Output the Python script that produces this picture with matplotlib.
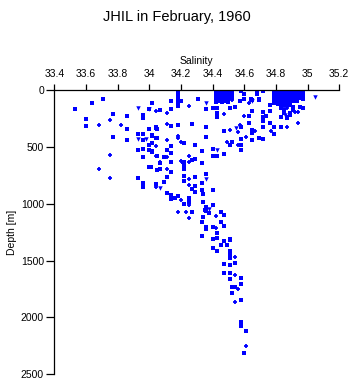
import numpy as np
import matplotlib.pyplot as plt

# salinity / depth readings, grouped by marker type
square_pts = [
    (33.71, 82), (33.64, 112), (33.53, 170), (33.77, 208), (33.86, 226), (34.00, 167),
    (34.02, 117), (33.96, 222), (33.96, 246), (33.60, 255), (33.60, 314), (33.86, 345),
    (34.00, 340), (34.04, 328), (33.93, 389), (33.96, 389), (34.02, 402), (34.05, 422),
    (33.77, 416), (33.86, 442), (33.96, 442), (34.00, 486), (33.93, 530), (33.96, 521),
    (34.00, 530), (34.02, 548), (34.05, 583), (33.96, 592), (34.00, 674), (34.00, 679),
    (34.05, 706), (33.93, 776), (33.96, 820), (34.04, 826), (33.96, 855),
    (34.18, 0), (34.18, 20), (34.18, 40), (34.18, 60), (34.18, 80), (34.18, 100), (34.18, 117),
    (34.14, 94), (34.20, 94), (34.31, 76), (34.18, 138), (34.07, 176), (34.14, 170),
    (34.36, 170), (34.40, 158), (34.43, 156), (34.43, 205), (34.43, 235), (34.51, 158),
    (34.54, 152), (34.60, 76), (34.65, 88), (34.68, 35), (34.69, 79), (34.63, 229),
    (34.63, 293), (34.58, 328), (34.65, 349), (34.69, 422), (34.65, 381), (34.58, 428),
    (34.47, 363), (34.36, 328), (34.27, 299), (34.18, 305), (34.14, 319), (34.04, 334),
    (34.05, 345), (34.02, 393), (34.04, 422), (34.22, 469), (34.14, 495), (34.29, 481),
    (34.33, 534), (34.36, 416), (34.40, 516), (34.51, 486), (34.52, 455), (34.58, 486),
    (34.58, 530), (34.47, 563), (34.43, 583), (34.40, 583), (34.02, 466), (34.02, 539),
    (34.11, 527), (34.14, 556), (34.09, 592), (34.14, 633), (34.22, 633), (34.22, 662),
    (34.27, 618), (34.29, 604), (34.33, 642), (34.07, 639),
    (34.97, 82), (34.95, 149), (34.97, 158), (34.87, 240), (34.89, 222), (34.83, 240),
    (34.83, 328), (34.79, 328), (34.79, 387), (34.76, 290), (34.72, 328), (34.72, 275),
    (34.72, 240), (34.72, 196), (34.76, 187), (34.76, 129), (34.74, 231), (34.69, 85),
    (34.65, 187), (34.65, 360), (34.65, 437), (34.72, 431), (34.83, 158), (34.85, 202),
    (34.79, 114), (34.87, 99), (34.89, 129), (34.91, 152), (34.85, 175), (34.89, 200),
    (34.87, 250), (34.91, 180),
    (34.01, 674), (34.05, 703), (34.07, 697), (34.14, 723), (34.11, 767), (34.09, 806),
    (34.11, 903), (34.14, 923), (34.14, 961), (34.18, 932), (34.16, 952), (34.22, 1002),
    (34.25, 949), (34.25, 984), (34.27, 1075), (34.21, 636), (34.22, 692), (34.22, 753),
    (34.22, 803), (34.29, 767), (34.29, 841), (34.29, 899), (34.27, 870), (34.33, 820),
    (34.33, 879), (34.34, 917), (34.36, 741), (34.40, 879), (34.34, 984), (34.36, 1026),
    (34.36, 1066), (34.35, 1055), (34.40, 1013), (34.38, 1084), (34.34, 1119), (34.33, 1163),
    (34.45, 1075), (34.47, 1099), (34.45, 1158), (34.40, 1202), (34.36, 1202), (34.36, 1225),
    (34.43, 1257), (34.47, 1193), (34.33, 1283), (34.40, 1312), (34.51, 1312), (34.43, 1298),
    (34.47, 1325), (34.51, 1319), (34.49, 1362), (34.45, 1362), (34.40, 1391), (34.43, 1415),
    (34.51, 1415), (34.51, 1450), (34.51, 1479), (34.54, 1518), (34.51, 1538), (34.47, 1529),
    (34.47, 1609), (34.51, 1611), (34.51, 1661), (34.58, 1650), (34.58, 1708), (34.52, 1729),
    (34.54, 1734), (34.52, 1787), (34.58, 1849), (34.58, 2042), (34.58, 2077), (34.61, 2118),
    (34.60, 2314),
]

# dense upper clusters
cluster_a = [
    (34.42, 0), (34.42, 25), (34.42, 50), (34.42, 75), (34.42, 105),
    (34.44, 0), (34.44, 20), (34.44, 45), (34.44, 70), (34.44, 95),
    (34.46, 0), (34.46, 25), (34.46, 50), (34.46, 75), (34.46, 110),
    (34.48, 0), (34.48, 20), (34.48, 45), (34.48, 70), (34.48, 100),
    (34.50, 0), (34.50, 25), (34.50, 50), (34.50, 80), (34.50, 105),
    (34.52, 0), (34.52, 20), (34.52, 45), (34.52, 75),
    (34.58, 9), (34.60, 38), (34.64, 82), (34.68, 24), (34.72, 9), (34.57, 97),
]
cluster_b = [
    (34.79, 0), (34.79, 20), (34.79, 45), (34.79, 70), (34.79, 95),
    (34.81, 0), (34.81, 20), (34.81, 45), (34.81, 70), (34.81, 95), (34.81, 120),
    (34.83, 0), (34.83, 20), (34.83, 45), (34.83, 70), (34.83, 95), (34.83, 125),
    (34.85, 0), (34.85, 20), (34.85, 45), (34.85, 70), (34.85, 95), (34.85, 120),
    (34.87, 0), (34.87, 20), (34.87, 45), (34.87, 70), (34.87, 95), (34.87, 130),
    (34.89, 0), (34.89, 20), (34.89, 45), (34.89, 70), (34.89, 95), (34.89, 120),
    (34.91, 0), (34.91, 20), (34.91, 45), (34.91, 70), (34.91, 95),
    (34.93, 0), (34.93, 20), (34.93, 45), (34.93, 70), (34.93, 95),
    (34.95, 0), (34.95, 20), (34.95, 45), (34.95, 75),
    (34.97, 0), (34.97, 25), (34.97, 50),
]

plus_pts = [
    (34.04, 187), (33.75, 266), (33.82, 310), (33.68, 310), (34.04, 490), (33.75, 574),
    (33.68, 697), (33.75, 776), (34.04, 855),
    (34.18, 30), (34.18, 140), (34.25, 143), (34.11, 202), (34.47, 208), (34.63, 112),
    (34.60, 231), (34.57, 305), (34.67, 360), (34.61, 416), (34.51, 352), (34.56, 372),
    (34.11, 299), (34.11, 437), (34.18, 407), (34.18, 425), (34.20, 460), (34.49, 460),
    (34.56, 481), (34.04, 577), (34.11, 592), (34.20, 621), (34.25, 580),
    (34.94, 196), (34.92, 196), (34.94, 293), (34.87, 328), (34.77, 363), (34.87, 158),
    (34.85, 140), (34.89, 110), (34.83, 60), (34.93, 40),
    (34.07, 636), (34.11, 697), (34.04, 838), (34.20, 967), (34.25, 1013), (34.23, 1070),
    (34.18, 1070), (34.25, 1128), (34.25, 636), (34.25, 785), (34.25, 838), (34.42, 1105),
    (34.42, 1213), (34.54, 1465), (34.54, 1629), (34.56, 1749), (34.54, 1866), (34.61, 2253),
    (34.44, 10), (34.48, 60), (34.52, 90),
]

tri_pts = [
    (33.93, 158), (33.93, 431), (34.00, 167), (33.98, 428), (34.36, 112), (34.55, 331),
    (34.43, 527), (35.05, 64), (34.07, 861), (34.36, 785), (34.38, 1046), (34.65, 100),
    (34.86, 220),
]

sal_ticks = [33.4, 33.6, 33.8, 34.0, 34.2, 34.4, 34.6, 34.8, 35.0, 35.2]
sal_labels = ["33.4", "33.6", "33.8", "34", "34.2", "34.4", "34.6", "34.8", "35", "35.2"]
depth_ticks = [0, 500, 1000, 1500, 2000, 2500]

plt.rcParams['font.family'] = ['Liberation Sans', 'DejaVu Sans']

fig = plt.figure(figsize=(3.53, 3.84), dpi=100)
ax = fig.add_axes([0.154, 0.025, 0.807, 0.741])

blue = '#0000ff'
sq = np.array(square_pts + cluster_a + cluster_b)
pl = np.array(plus_pts)
tr = np.array(tri_pts)
ax.plot(sq[:, 0], sq[:, 1], 's', color=blue, markersize=2.6, mew=0, linestyle='none')
ax.plot(pl[:, 0], pl[:, 1], '+', color=blue, markersize=3.4, mew=1.3, linestyle='none')
ax.plot(tr[:, 0], tr[:, 1], 'v', color=blue, markersize=3.2, mew=0, linestyle='none')

ax.set_xlim(33.4, 35.2)
ax.set_ylim(2500, 0)
ax.xaxis.tick_top()
ax.xaxis.set_label_position('top')
ax.set_xticks(sal_ticks)
ax.set_xticklabels(sal_labels)
ax.set_yticks(depth_ticks)
ax.spines['right'].set_visible(False)
ax.spines['bottom'].set_visible(False)
ax.tick_params(axis='x', direction='out', length=4, width=0.9, pad=3.5, labelsize=7.5)
ax.tick_params(axis='y', direction='out', length=6, width=0.9, pad=1.5, labelsize=7.5)
for s in ('left', 'top'):
    ax.spines[s].set_linewidth(0.9)
ax.set_xlabel("Salinity", fontsize=7.5, labelpad=4)
ax.set_ylabel("Depth [m]", fontsize=7.5, labelpad=3)
fig.suptitle("JHIL in February, 1960", fontsize=10.5, y=0.975)

fig.savefig('out.png', dpi=100)
